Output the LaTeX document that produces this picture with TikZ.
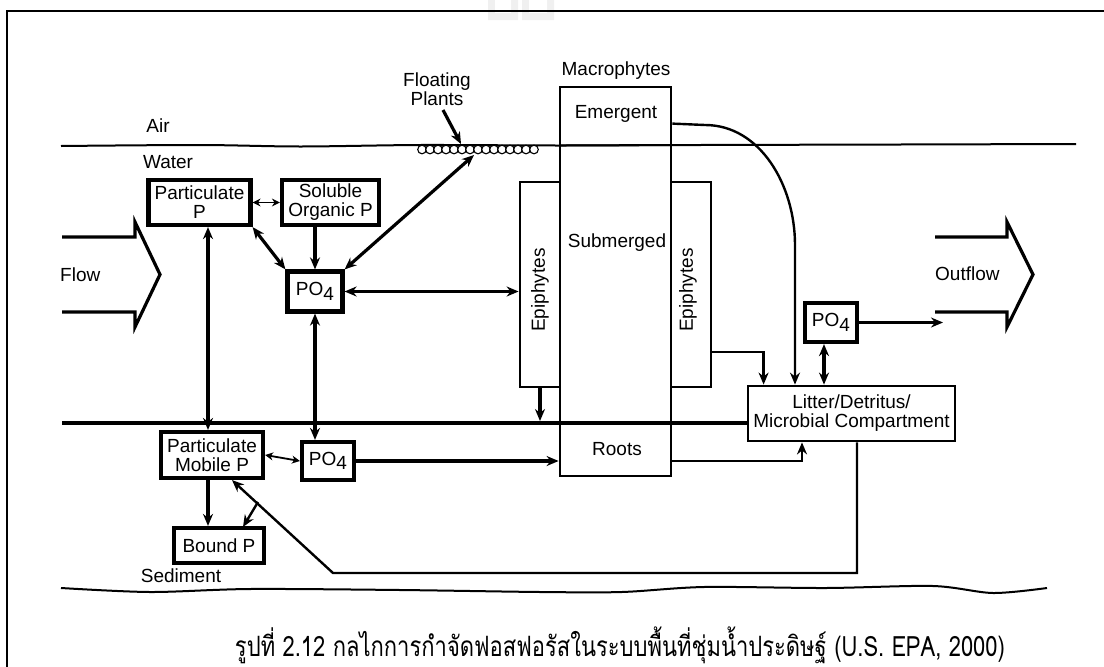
\documentclass[tikz,border=0pt]{standalone}
\usepackage{fontspec}
\setmainfont{Liberation Sans}
\newfontfamily\thaifont[Script=Thai]{Loma}
\usetikzlibrary{arrows.meta,calc}
\newcommand{\POfour}{PO\raisebox{-0.45ex}{4}}
\begin{document}
\begin{tikzpicture}[x=1pt,y=-1pt,
  every node/.style={font=\fontsize{19}{19}\selectfont, inner sep=0pt, align=center},
  tbox/.style={draw, line width=4.2pt},
  mbox/.style={draw, line width=2.8pt},
  lbl/.style={},
  arr/.style={-{Stealth[length=12pt,width=10pt]}, line width=3.2pt},
  dbl/.style={{Stealth[length=12pt,width=10pt]}-{Stealth[length=12pt,width=10pt]}, line width=3.2pt},
  sdbl/.style={{Stealth[length=8pt,width=8pt]}-{Stealth[length=8pt,width=8pt]}, line width=1.8pt},
  tarr/.style={-{Stealth[length=12pt,width=10pt]}, line width=2.4pt},
  thinline/.style={line width=2pt},
  bigarrow/.style={line width=3.2pt, line join=miter}
]
\useasboundingbox (0,0) rectangle (1104,667);
% watermark
\fill[gray!12] (488,0) rectangle (518,20) (522,0) rectangle (554,20);
\fill[white] (495,0) rectangle (511,13) (529,0) rectangle (547,13);
% frame
\draw[line width=2.6pt] (7,667) -- (7,11) -- (1104,11);

% water surface
\draw[thinline] plot[smooth] coordinates {(61,146) (200,145) (300,146.5) (420,145) (560,145.5) (700,145) (900,144.5) (1076,144)};
% floating plants
\foreach \i in {0,...,14} \draw[line width=1.1pt, fill=white] (422+8*\i,149.5) circle (4.3);
% sediment surface
\draw[line width=3.4pt] (62,423) -- (748,423);
% bottom wavy line
\draw[thinline] plot[smooth] coordinates {(61,588) (150,592) (250,589) (400,590) (540,592) (622,592) (704,587) (826,588) (933,586) (993,593) (1047,588)};

% labels
\node[lbl] (air) at (158,126) {Air};
\node[lbl] (water) at (168,162) {Water};
\node[lbl] (sed) at (181,576) {Sediment};
\node[lbl] (fp) at (437,89) {Floating\\Plants};
\node[lbl] (mac) at (616,71) {Macrophytes};
\node[lbl, anchor=west] (flow) at (60,275) {Flow};
\node[lbl, anchor=west] (outflow) at (935,274) {Outflow};

% big flow arrows
\draw[bigarrow] (62,237) -- (135,237) -- (135,222) -- (160,274.5) -- (135,327) -- (135,312) -- (62,312);
\draw[bigarrow] (935,237) -- (1007,237) -- (1007,222) -- (1033,274.5) -- (1007,327) -- (1007,312) -- (935,312);

% macrophyte column and epiphytes
\node[mbox, minimum width=40pt, minimum height=205pt] (epiL) at (540,284.5) {};
\node[mbox, minimum width=40pt, minimum height=205pt] (epiR) at (691,284.5) {};
\node[mbox, minimum width=111pt, minimum height=389pt] (macro) at (615.5,281.5) {};
\draw[thinline] (560,145.3) -- (671,145.2);
\draw[line width=3.4pt] (560,423) -- (671,423);
\node[rotate=90] (epiLt) at (540,290) {Epiphytes};
\node[rotate=90] (epiRt) at (688,290) {Epiphytes};
\node (emer) at (616,114) {Emergent};
\node (subm) at (617,243) {Submerged};
\node (roots) at (617,449) {Roots};

% boxes
\node[tbox, minimum width=102pt, minimum height=45pt] (pp) at (199.5,202.5) {Particulate\\P};
\node[tbox, minimum width=97pt, minimum height=45pt] (sop) at (330.5,202.5) {Soluble\\Organic P};
\node[tbox, minimum width=55pt, minimum height=40pt] (po4a) at (315,291.5) {\POfour};
\node[tbox, minimum width=52pt, minimum height=39pt] (po4r) at (831,322.5) {\POfour};
\node[mbox, minimum width=207pt, minimum height=55pt] (litter) at (851.5,413.5) {Litter/Detritus/\\Microbial Compartment};
\node[tbox, minimum width=102pt, minimum height=46pt] (pmp) at (212,455) {Particulate\\Mobile P};
\node[tbox, minimum width=52pt, minimum height=38pt] (po4b) at (328,461) {\POfour};
\node[tbox, minimum width=90pt, minimum height=35pt] (bound) at (219,545.5) {Bound P};

% coordinates
\coordinate (fpa) at (443,110);
\coordinate (fpb) at (461,144);
\coordinate (flt) at (474,155);
\coordinate (vx1) at (208,0);
\coordinate (c1) at (857,573);
\coordinate (c2) at (333,573);
\coordinate (c3) at (258,502);
\coordinate (c4) at (243,527);
\coordinate (x795) at (795,0);
\coordinate (x824) at (824,0);
\coordinate (x802) at (802,0);
\coordinate (sedhit) at (540,421);
\coordinate (outend) at (943,322.5);
\coordinate (curve1) at (705,125);
\coordinate (curve2) at (795,245);

% connectors
\draw[arr] (fpa) -- (fpb);
\draw[dbl] (po4a.north east) -- (flt);
\draw[sdbl] (pp.east) -- (sop.west);
\draw[dbl] (pp.south east) -- (po4a.north west);
\draw[arr] (sop.south -| po4a) -- (po4a.north);
\draw[dbl] (po4a.east) -- (po4a.east -| epiL.west);
\draw[dbl] (pp.south -| vx1) -- (pmp.north -| vx1);
\draw[dbl] (po4a.south) -- (po4a.south |- po4b.north);
\draw[sdbl] (pmp.east) -- (po4b.west);
\draw[arr] (po4b.east) -- (po4b.east -| macro.west);
\draw[arr] (pmp.south -| vx1) -- (bound.north -| vx1);
\draw[tarr] (litter.south -| c1) -- (c1) -- (c2) -- ($(pmp.south)+(20,0)$);
\draw[tarr] (c3) -- (c4);
\draw[arr] (epiL.south) -- (sedhit);
\draw[tarr] ($(epiR.east)+(0,67.5)$) -| ($(litter.north west)+(17,0)$);
\draw[tarr] ($(macro.north east)+(0,38)$) -- (curve1) .. controls (760,125) and (795,185) .. (curve2) -- (litter.north -| x795);
\draw[dbl] (po4r.south -| x824) -- (litter.north -| x824);
\draw[tarr] (po4r.east) -- (outend);
\draw[tarr] (macro.east |- po4b.east) -| (litter.south -| x802);

% caption
\node (cap) at (620,645) {\scalebox{0.785}[1]{\thaifont\fontsize{28}{28}\selectfont รูปที่ 2.12 กลไกการกำจัดฟอสฟอรัสในระบบพื้นที่ชุ่มน้ำประดิษฐ์ (U.S. EPA, 2000)}};
\end{tikzpicture}
\end{document}
